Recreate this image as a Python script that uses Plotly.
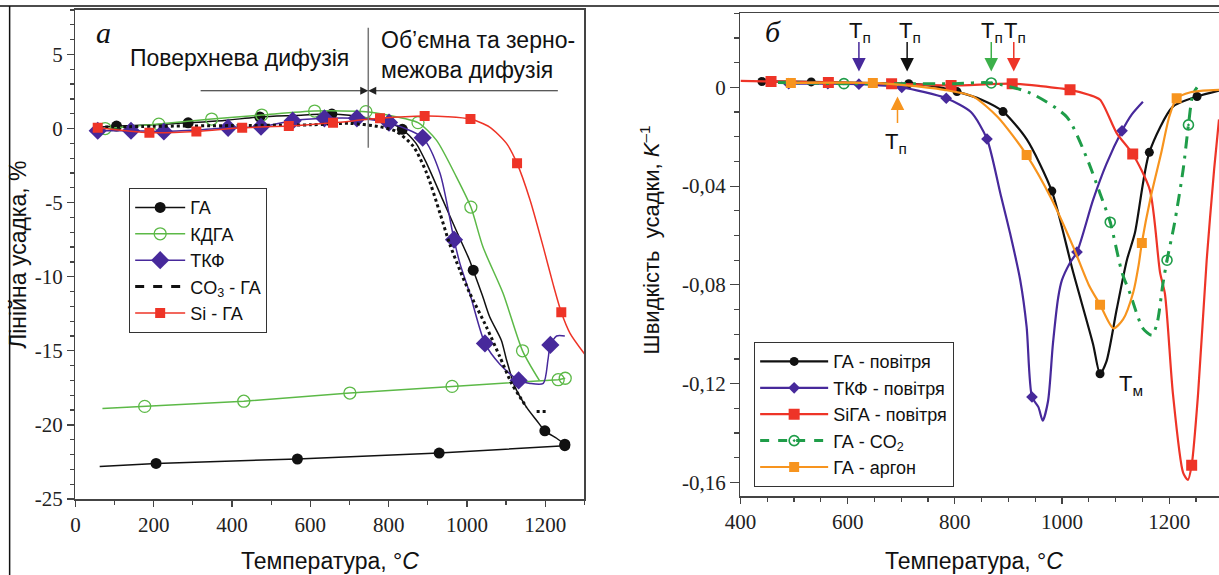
import plotly.graph_objects as go

# ---------------- LEFT PANEL (а): linear shrinkage, % ----------------
ga_heat_T = [60, 105, 200, 288, 380, 471, 560, 655, 750, 800, 835, 870, 897, 938, 973, 1007, 1016, 1040, 1058, 1088, 1101, 1122, 1152, 1178, 1199, 1229, 1250]
ga_heat_v = [0.1, 0.17, 0.25, 0.39, 0.55, 0.78, 0.88, 0.98, 0.7, 0.4, -0.05, -1.0, -2.35, -4.8, -6.9, -8.9, -9.56, -11.3, -12.7, -14.3, -15.6, -17.4, -18.8, -19.7, -20.4, -20.9, -21.3]
ga_heat_mT = [105, 288, 471, 655, 835, 1016, 1199, 1250]
ga_heat_mv = [0.17, 0.39, 0.78, 0.98, -0.05, -9.56, -20.4, -21.3]
ga_cool_T = [1250, 929, 567, 206, 62]
ga_cool_v = [-21.4, -21.9, -22.3, -22.6, -22.8]
ga_cool_mT = [1250, 929, 567, 206]
ga_cool_mv = [-21.4, -21.9, -22.3, -22.6]

kdga_heat_T = [60, 76, 213, 348, 476, 611, 742, 800, 875, 922, 973, 1010, 1041, 1092, 1142, 1185]
kdga_heat_v = [0.0, 0.0, 0.3, 0.64, 0.91, 1.18, 1.14, 0.9, 0.4, -0.78, -3.26, -5.3, -8.0, -11.1, -15.0, -17.0]
kdga_heat_mT = [76, 213, 348, 476, 611, 742, 875, 1010, 1142]
kdga_heat_mv = [0.0, 0.3, 0.64, 0.91, 1.18, 1.14, 0.4, -5.3, -15.0]
kdga_cool_T = [1251, 1233, 962, 701, 430, 177, 69]
kdga_cool_v = [-16.85, -16.95, -17.4, -17.85, -18.4, -18.75, -18.9]
kdga_cool_mT = [1251, 1233, 962, 701, 430, 177]
kdga_cool_mv = [-16.85, -16.95, -17.4, -17.85, -18.4, -18.75]

tkf_T = [57, 142, 226, 310, 390, 474, 555, 636, 719, 770, 801, 887, 931, 967, 982, 1007, 1046, 1084, 1132, 1161, 1195, 1207, 1213, 1229, 1250]
tkf_v = [-0.15, -0.15, -0.2, -0.1, 0.05, 0.12, 0.53, 0.69, 0.69, 0.55, 0.4, -0.62, -3.0, -7.5, -9.1, -11.1, -14.5, -15.9, -17.0, -17.2, -17.2, -15.6, -14.6, -14.0, -14.0]
tkf_mT = [57, 142, 226, 390, 474, 555, 636, 719, 801, 887, 967, 1046, 1132, 1213]
tkf_mv = [-0.15, -0.15, -0.2, 0.05, 0.12, 0.53, 0.69, 0.69, 0.4, -0.62, -7.5, -14.5, -17.0, -14.6]

co3_T = [60, 200, 400, 600, 700, 778, 820, 863, 897, 931, 956, 982, 1007, 1050, 1084, 1114, 1135, 1152, None, 1178, 1207]
co3_v = [0.1, 0.15, 0.2, 0.25, 0.35, 0.12, -0.2, -1.2, -3.0, -5.7, -7.8, -9.56, -11.1, -13.4, -15.4, -17.2, -18.1, -18.8, None, -19.1, -19.1]

si_T = [57, 189, 309, 426, 545, 658, 778, 892, 950, 1009, 1058, 1101, 1128, 1161, 1195, 1220, 1241, 1263, 1300]
si_v = [0.05, -0.28, -0.2, 0.05, 0.17, 0.39, 0.69, 0.84, 0.8, 0.64, 0.1, -1.0, -2.35, -4.8, -8.0, -10.5, -12.4, -13.8, -15.2]
si_mT = [57, 189, 309, 426, 545, 658, 778, 892, 1009, 1128, 1241]
si_mv = [0.05, -0.28, -0.2, 0.05, 0.17, 0.39, 0.69, 0.84, 0.64, -2.35, -12.4]

left_xticks = [0, 200, 400, 600, 800, 1000, 1200]
left_yticks = [5, 0, -5, -10, -15, -20, -25]
left_yticklabels = ["5", "0", "-5", "-10", "-15", "-20", "-25"]

# ---------------- RIGHT PANEL (б): shrinkage rate, 1/K ----------------
air_T = [440, 532, 620, 714, 760, 804, 850, 890, 934, 981, 1021, 1058, 1071, 1083, 1102, 1121, 1136, 1163, 1207, 1252, 1293]
air_v = [0.0024, 0.0022, 0.0018, 0.0015, 0.0005, -0.0017, -0.005, -0.0098, -0.021, -0.042, -0.075, -0.104, -0.116, -0.111, -0.090, -0.070, -0.059, -0.0263, -0.0078, -0.0037, -0.0013]
air_mT = [440, 532, 714, 804, 890, 981, 1071, 1163, 1252]
air_mv = [0.0024, 0.0022, 0.0015, -0.0017, -0.0098, -0.042, -0.116, -0.0263, -0.0037]

tkfa_T = [490, 563, 621, 701, 784, 830, 860, 885, 903, 922, 934, 944, 956, 964, 974, 983, 993, 1000, 1015, 1028, 1058, 1083, 1112, 1130, 1151]
tkfa_v = [0.0015, 0.0015, 0.0013, 0.0, -0.0044, -0.010, -0.0209, -0.043, -0.059, -0.078, -0.097, -0.1254, -0.1295, -0.135, -0.127, -0.104, -0.085, -0.078, -0.071, -0.0667, -0.0456, -0.031, -0.0176, -0.011, -0.0058]
tkfa_mT = [490, 563, 621, 701, 784, 860, 944, 1028, 1112]
tkfa_mv = [0.0015, 0.0015, 0.0013, 0.0, -0.0044, -0.0209, -0.1254, -0.0667, -0.0176]

siga_T = [400, 457, 564, 682, 793, 907, 960, 1015, 1050, 1071, 1102, 1132, 1164, 1183, 1192, 1207, 1226, 1235, 1242, 1254, 1270, 1284, 1293]
siga_v = [0.0026, 0.0024, 0.002, 0.0015, 0.0008, 0.0015, 0.0005, -0.001, -0.003, -0.005, -0.0185, -0.027, -0.0416, -0.075, -0.0835, -0.124, -0.156, -0.159, -0.153, -0.124, -0.070, -0.033, -0.013]
siga_mT = [457, 564, 682, 793, 907, 1015, 1132, 1242]
siga_mv = [0.0024, 0.002, 0.0015, 0.0008, 0.0015, -0.001, -0.027, -0.153]

co2_T = [470, 593, 700, 800, 868, 941, 1009, 1047, 1071, 1090, 1112, 1127, 1151, 1168, 1178, 1188, 1196, 1210, 1226, 1236, 1244, 1252]
co2_v = [0.002, 0.0015, 0.0015, 0.0015, 0.0018, -0.0023, -0.012, -0.029, -0.043, -0.0546, -0.075, -0.0835, -0.0976, -0.1004, -0.095, -0.080, -0.070, -0.055, -0.0335, -0.0152, -0.003, 0.0]
co2_mT = [593, 868, 1090, 1196, 1236]
co2_mv = [0.0015, 0.0018, -0.0546, -0.070, -0.0152]

ar_T = [494, 647, 700, 780, 834, 880, 934, 980, 1021, 1050, 1071, 1096, 1114, 1133, 1143, 1149, 1165, 1185, 1200, 1214, 1240, 1263, 1293]
ar_v = [0.0018, 0.0018, 0.001, -0.001, -0.0037, -0.012, -0.0274, -0.045, -0.0646, -0.080, -0.088, -0.0976, -0.094, -0.083, -0.072, -0.063, -0.045, -0.0267, -0.012, -0.0044, -0.002, -0.0013, -0.001]
ar_mT = [494, 647, 934, 1071, 1149, 1214]
ar_mv = [0.0018, 0.0018, -0.0274, -0.088, -0.063, -0.0044]

right_xticks = [400, 600, 800, 1000, 1200]
right_yticks = [0, -0.04, -0.08, -0.12, -0.16]
right_yticklabels = ["0", "-0,04", "-0,08", "-0,12", "-0,16"]

# ---------------- colours ----------------
BLACK = "#111111"
GREEN_L = "#5cb947"
PURPLE = "#47299b"
RED = "#ee3427"
GREEN_R = "#1f9d49"
ORANGE = "#f7941e"

SANS = "Liberation Sans, Arial, sans-serif"
SERIF = "Liberation Serif, Times New Roman, DejaVu Serif, serif"

fig = go.Figure()


def add_series(xs, ys, mx, my, color, symbol, msize, lw, xa, ya, dash="solid",
               name=None, legend=None, mline=None, legend_dash=None, shape="spline"):
    fig.add_trace(go.Scatter(x=xs, y=ys, mode="lines", xaxis=xa, yaxis=ya,
                             line=dict(color=color, width=lw, dash=dash, shape=shape, smoothing=0.7),
                             showlegend=False, hoverinfo="skip"))
    mk = dict(color=color, symbol=symbol, size=msize)
    if mline is not None:
        mk["line"] = dict(color=color, width=mline)
    if mx is not None:
        fig.add_trace(go.Scatter(x=mx, y=my, mode="markers", xaxis=xa, yaxis=ya,
                                 marker=mk, showlegend=False, hoverinfo="skip"))
    if name is not None:
        fig.add_trace(go.Scatter(x=[None], y=[None], mode="lines+markers" if mx is not None else "lines",
                                 xaxis=xa, yaxis=ya, name=name, legend=legend,
                                 line=dict(color=color, width=lw, dash=legend_dash or dash),
                                 marker=mk))


# left panel
add_series(ga_heat_T, ga_heat_v, ga_heat_mT, ga_heat_mv, BLACK, "circle", 11, 1.5, "x", "y",
           name="ГА", legend="legend")
add_series(ga_cool_T, ga_cool_v, ga_cool_mT, ga_cool_mv, BLACK, "circle", 11, 1.5, "x", "y", shape="linear")
add_series(kdga_heat_T, kdga_heat_v, kdga_heat_mT, kdga_heat_mv, GREEN_L, "circle-open", 12, 1.5, "x", "y",
           name="КДГА", legend="legend", mline=1.3)
add_series(kdga_cool_T, kdga_cool_v, kdga_cool_mT, kdga_cool_mv, GREEN_L, "circle-open", 12, 1.5, "x", "y",
           mline=1.3, shape="linear")
add_series(tkf_T, tkf_v, tkf_mT, tkf_mv, PURPLE, "diamond", 14, 1.5, "x", "y",
           name="ТКФ", legend="legend")
add_series(co3_T, co3_v, None, None, BLACK, "circle", 1, 3, "x", "y", dash="dot",
           name="CO<sub>3</sub> - ГА", legend="legend", legend_dash="dash")
add_series(si_T, si_v, si_mT, si_mv, RED, "square", 10, 1.5, "x", "y",
           name="Si - ГА", legend="legend")

# right panel
add_series(air_T, air_v, air_mT, air_mv, BLACK, "circle", 9, 2.2, "x2", "y2",
           name="ГА - повітря", legend="legend2")
add_series(tkfa_T, tkfa_v, tkfa_mT, tkfa_mv, PURPLE, "diamond", 9, 2.2, "x2", "y2",
           name="ТКФ - повітря", legend="legend2")
add_series(siga_T, siga_v, siga_mT, siga_mv, RED, "square", 11, 2.2, "x2", "y2",
           name="SiГА - повітря", legend="legend2")
add_series(co2_T, co2_v, co2_mT, co2_mv, GREEN_R, "circle-open-dot", 10, 3, "x2", "y2",
           dash="12px,7px,3px,7px", name="ГА - CO<sub>2</sub>", legend="legend2", mline=1.6,
           legend_dash="dash")
add_series(ar_T, ar_v, ar_mT, ar_mv, ORANGE, "square", 10, 2.2, "x2", "y2",
           name="ГА - аргон", legend="legend2")

AX = "#444444"
tickfont = dict(family=SERIF, size=21, color="#222")

common = dict(showgrid=False, zeroline=False, showline=True, linecolor=AX, linewidth=1.5,
              ticks="outside", tickcolor=AX, tickwidth=1.2, tickfont=tickfont, automargin=False)

fig.update_layout(
    width=1219, height=575,
    margin=dict(l=0, r=0, t=0, b=0, autoexpand=False),
    paper_bgcolor="white", plot_bgcolor="white",
    hovermode=False,
    xaxis=dict(domain=[0.06186, 0.47941], range=[0, 1300], tickvals=left_xticks,
               mirror=True, ticklen=6,
               minor=dict(dtick=100, tick0=0, ticks="outside", ticklen=4, tickcolor=AX),
               anchor="y", **common),
    yaxis=dict(domain=[0.13217, 0.98261], range=[-25, 8], tickvals=left_yticks,
               ticktext=left_yticklabels, mirror=True, ticklen=7,
               minor=dict(dtick=1, tick0=0, ticks="outside", ticklen=4, tickcolor=AX),
               anchor="x", **common),
    xaxis2=dict(domain=[0.60746, 1.0], range=[400, 1293], tickvals=right_xticks,
                mirror=True, ticklen=6,
                minor=dict(dtick=50, tick0=0, ticks="outside", ticklen=4, tickcolor=AX),
                anchor="y2", **common),
    yaxis2=dict(domain=[0.13739, 0.97687], range=[-0.1655, 0.030], tickvals=right_yticks,
                ticktext=right_yticklabels, ticklen=9,
                minor=dict(dtick=0.01, tick0=0, ticks="outside", ticklen=5, tickcolor=AX),
                anchor="x2", **common),
    legend=dict(x=0.1058, y=0.673, xanchor="left", yanchor="top",
                bgcolor="white", bordercolor="#333", borderwidth=1.2,
                font=dict(family=SANS, size=18, color="#111"), tracegroupgap=0,
                itemwidth=50),
    legend2=dict(x=0.6185, y=0.4052, xanchor="left", yanchor="top",
                 bgcolor="white", bordercolor="#333", borderwidth=1.2,
                 font=dict(family=SANS, size=18, color="#111"), tracegroupgap=0,
                 itemwidth=68),
    showlegend=True,
)

ann = []
tfont = dict(family=SANS, size=23, color="#111")
C = dict(xanchor="center", yanchor="middle", showarrow=False)
# axis titles
ann.append(dict(text="Лінійна усадка, %", x=0.0152, y=0.556, xref="paper", yref="paper",
                textangle=-90, font=tfont, **C))
ann.append(dict(text="Температура, °<i>C</i>", x=0.2707, y=0.0245, xref="paper", yref="paper",
                font=tfont, **C))
ann.append(dict(text="Швидкість  усадки, <i>K</i><sup>–1</sup>", x=0.533, y=0.583, xref="paper", yref="paper",
                textangle=-90, font=dict(family=SANS, size=22, color="#111"), **C))
ann.append(dict(text="Температура, °<i>C</i>", x=0.799, y=0.0245, xref="paper", yref="paper",
                font=tfont, **C))
# panel letters
ann.append(dict(text="<i>а</i>", x=0.0845, y=0.944, xref="paper", yref="paper",
                font=dict(family=SERIF, size=30, color="#111"), **C))
ann.append(dict(text="<i>б</i>", x=0.634, y=0.946, xref="paper", yref="paper",
                font=dict(family=SERIF, size=30, color="#111"), **C))
# diffusion regions (left)
ann.append(dict(text="Поверхнева дифузія", x=418, y=4.74, xref="x", yref="y",
                font=dict(family=SANS, size=23, color="#111"), **C))
ann.append(dict(text="Об’ємна та зерно-<br>межова дифузія", x=776, y=4.95, xref="x", yref="y",
                xanchor="left", yanchor="middle", align="left", showarrow=False,
                font=dict(family=SANS, size=23, color="#111")))
ann.append(dict(text="", x=748, y=2.55, ax=316, ay=2.55, xref="x", yref="y", axref="x", ayref="y",
                showarrow=True, arrowhead=2, arrowsize=1.6, arrowwidth=1, arrowcolor="#222", standoff=0))
ann.append(dict(text="", x=748, y=2.55, ax=1236, ay=2.55, xref="x", yref="y", axref="x", ayref="y",
                showarrow=True, arrowhead=2, arrowsize=1.6, arrowwidth=1, arrowcolor="#222", standoff=0))

# T_п arrows (right)
lab = dict(family=SANS, size=22, color="#111")
for xt, col, xl in [(621, PURPLE, 623), (711, BLACK, 716), (868, "#3cb04a", 869), (910, RED, 913)]:
    ann.append(dict(text="", x=xt, y=0.0064, xref="x2", yref="y2", ax=0, ay=-31,
                    showarrow=True, arrowhead=2, arrowsize=1.8, arrowwidth=1.5, arrowcolor=col, standoff=0))
    ann.append(dict(text="T<sub>п</sub>", x=xl, y=0.0225, xref="x2", yref="y2", font=lab, **C))
ann.append(dict(text="", x=693, y=-0.0037, xref="x2", yref="y2", ax=0, ay=28,
                showarrow=True, arrowhead=2, arrowsize=1.8, arrowwidth=1.5, arrowcolor=ORANGE, standoff=0))
ann.append(dict(text="T<sub>п</sub>", x=690, y=-0.0225, xref="x2", yref="y2", font=lab, **C))
ann.append(dict(text="T<sub>м</sub>", x=1103, y=-0.1205, xref="x2", yref="y2", xanchor="left",
                yanchor="middle", showarrow=False, font=lab))
fig.update_layout(annotations=ann)

shapes = [
    dict(type="line", xref="x", yref="y", x0=748, x1=748, y0=-1.3, y1=6.8,
         line=dict(color="#777", width=1.5)),
    dict(type="line", xref="paper", yref="paper", x0=0, x1=1, y0=0.9896, y1=0.9896,
         line=dict(color="#111", width=1.5)),
    dict(type="line", xref="paper", yref="paper", x0=0.0079, x1=0.0079, y0=0, y1=0.9896,
         line=dict(color="#111", width=1.5)),
]
fig.update_layout(shapes=shapes)

fig.write_html("out.html", config={"displayModeBar": False, "staticPlot": True},
               post_script="document.body.style.margin='0';document.body.style.overflow='hidden';")
